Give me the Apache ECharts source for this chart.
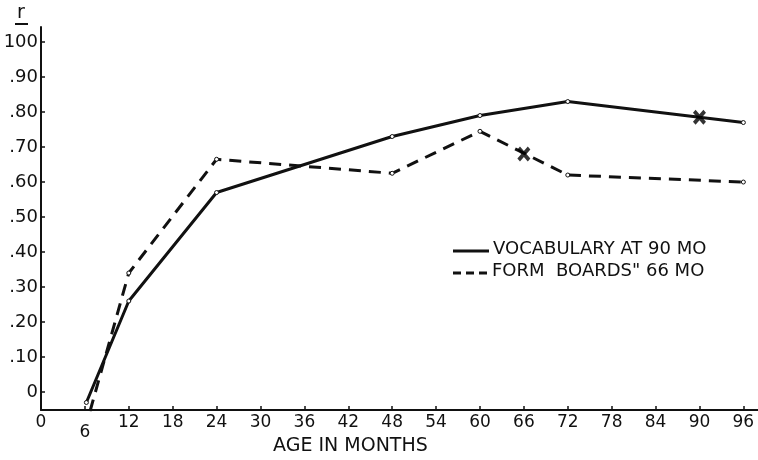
<!DOCTYPE html>
<html>
<head>
<meta charset="utf-8">
<script src="https://cdn.jsdelivr.net/npm/echarts@6/dist/echarts.min.js"></script>
<style>
  html, body { margin: 0; padding: 0; background: #fff; }
  #chart { width: 758px; height: 460px; }
</style>
</head>
<body>
<div id="chart"></div>
<script>
// values
const vocabAges = [6.2, 12, 24, 48, 60, 72, 96];
const vocabR = [-0.03, 0.26, 0.57, 0.73, 0.79, 0.83, 0.77];
const formAges = [6.7, 12, 24, 48, 60, 72, 96];
const formR = [-0.055, 0.34, 0.665, 0.625, 0.745, 0.62, 0.6];
// the "x" marks on each curve
const markAges = [90, 66];
const markR = [0.785, 0.68];

const xTicks = [0, 6, 12, 18, 24, 30, 36, 42, 48, 54, 60, 66, 72, 78, 84, 90, 96];
const yTicks = [0, 0.1, 0.2, 0.3, 0.4, 0.5, 0.6, 0.7, 0.8, 0.9, 1.0];
const yTickLabels = ["0", ".10", ".20", ".30", ".40", ".50", ".60", ".70", ".80", ".90", "100"];

const font = "'DejaVu Sans', sans-serif";
const ink = "#111";

const chart = echarts.init(document.getElementById("chart"));

const pairs = (xs, ys) => xs.map((x, i) => [x, ys[i]]);

const crossPath = "path://M0,2L2,0L5,3L8,0L10,2L7,5L10,8L8,10L5,7L2,10L0,8L3,5Z";

const option = {
  animation: false,
  backgroundColor: "#fff",
  grid: { left: 41, right: 0, top: 27, bottom: 50, outerBoundsMode: "none", containLabel: false },
  xAxis: {
    type: "value",
    min: 0,
    max: 98,
    splitLine: { show: false },
    axisLine: { onZero: false, lineStyle: { color: ink, width: 2 } },
    axisTick: { inside: true, length: 4, customValues: xTicks, lineStyle: { color: ink, width: 1.5 } },
    axisLabel: {
      customValues: xTicks,
      color: ink,
      fontFamily: font,
      fontSize: 17,
      margin: 4,
      formatter: (v) => (v === 6 ? "{s|6}" : String(v)),
      rich: { s: { fontFamily: font, fontSize: 17, color: ink, padding: [10, 0, 0, 0] } }
    }
  },
  yAxis: {
    type: "value",
    min: -0.0514,
    max: 1.043,
    splitLine: { show: false },
    axisLine: { onZero: false, lineStyle: { color: ink, width: 2 } },
    axisTick: { inside: true, length: 4, customValues: yTicks, lineStyle: { color: ink, width: 1.5 } },
    axisLabel: {
      customValues: yTicks,
      color: ink,
      fontFamily: font,
      fontSize: 18,
      margin: 3,
      formatter: (v) => yTickLabels[Math.round(v * 10)]
    }
  },
  graphic: [
    { type: "text", left: 17, top: 4, style: { text: "r", fill: ink, font: "19px " + font } },
    { type: "line", shape: { x1: 15, y1: 24, x2: 28, y2: 24 }, style: { stroke: ink, lineWidth: 2 } },
    { type: "text", left: 273, top: 437, style: { text: "AGE IN MONTHS", fill: ink, font: "19px " + font } },
    { type: "line", shape: { x1: 453, y1: 251, x2: 489, y2: 251 }, style: { stroke: ink, lineWidth: 3 } },
    { type: "text", left: 493, top: 240, style: { text: "VOCABULARY AT 90 MO", fill: ink, font: "18px " + font } },
    { type: "line", shape: { x1: 453, y1: 273, x2: 492, y2: 273 }, style: { stroke: ink, lineWidth: 3, lineDash: [8, 5] } },
    { type: "text", left: 492, top: 262, style: { text: "FORM  BOARDS\" 66 MO", fill: ink, font: "18px " + font } }
  ],
  series: [
    {
      name: "VOCABULARY AT 90 MO",
      type: "line",
      data: pairs(vocabAges, vocabR),
      symbol: "circle",
      symbolSize: 4,
      itemStyle: { color: "#fff", borderColor: ink, borderWidth: 1 },
      lineStyle: { color: ink, width: 3 }
    },
    {
      name: "FORM BOARDS 66 MO",
      type: "line",
      data: pairs(formAges, formR),
      symbol: "circle",
      symbolSize: 4,
      itemStyle: { color: "#fff", borderColor: ink, borderWidth: 1 },
      lineStyle: { color: ink, width: 3, type: [12, 8] }
    },
    {
      type: "scatter",
      data: pairs(markAges, markR),
      symbol: crossPath,
      symbolSize: [13, 15],
      itemStyle: { color: "#000" },
      z: 5
    }
  ]
};

chart.setOption(option);
</script>
</body>
</html>
